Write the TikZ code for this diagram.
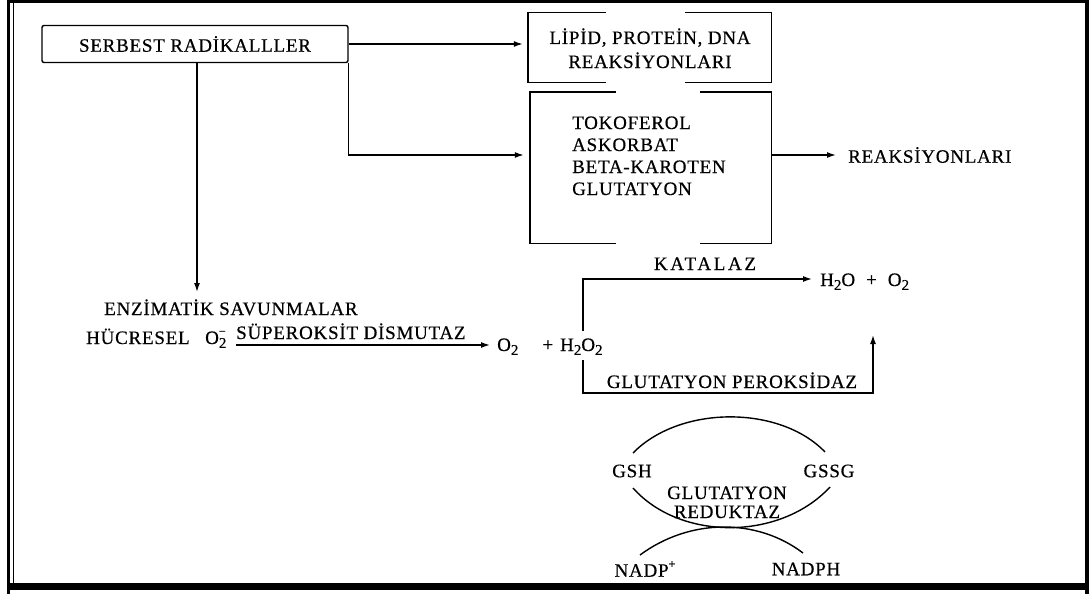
\documentclass[tikz,border=0pt]{standalone}
\usepackage{fontspec}
\setmainfont{Liberation Serif}[LetterSpace=4,FakeBold=0.5]
\usetikzlibrary{arrows.meta}
\newcommand{\mysub}[1]{\raisebox{-0.45ex}{\fontsize{15}{15}\selectfont #1}}
\newcommand{\mysup}[1]{\raisebox{1.0ex}{\fontsize{12}{12}\selectfont #1}}
\begin{document}
\begin{tikzpicture}[x=1pt,y=-1pt,
  txt/.style={inner sep=0pt,font=\fontsize{19}{23}\selectfont,anchor=base west},
  ln/.style={line width=1.4pt},
  arr/.style={ln,-{Latex[length=9pt,width=6pt]}},
  gapbox/.style={inner sep=0pt}]
\useasboundingbox (0,0) rectangle (1089,594);
% frame
\draw[line width=3.2pt] (8.5,0) -- (8.5,594);
\draw[line width=1pt] (13,0) -- (13,590);
\draw[line width=3pt] (7,1.5) -- (1089,1.5);
\draw[line width=3.5pt] (1087.2,0) -- (1087.2,594);
\draw[line width=7pt] (7,586.5) -- (1089,586.5);

% SERBEST RADIKALLER
\node[draw,ln,rounded corners=2pt,minimum width=306pt,minimum height=37pt,
      inner sep=0pt,font=\fontsize{19}{23}\selectfont] (sr) at (195,44) {SERBEST RADİKALLLER};

% LIPID box
\node[gapbox,minimum width=243pt,minimum height=69pt] (lip) at (649.5,47.5) {};
\draw[ln] ([xshift=78pt]lip.north west) -- (lip.north west) -- (lip.south west) -- ([xshift=78pt]lip.south west);
\draw[ln] ([xshift=-86pt]lip.north east) -- (lip.north east) -- (lip.south east) -- ([xshift=-86pt]lip.south east);
\node[txt,anchor=base] (lip1) at (650,44) {LİPİD, PROTEİN, DNA};
\node[txt,anchor=base] (lip2) at (650,68) {REAKSİYONLARI};

% TOKOFEROL box
\node[gapbox,minimum width=241pt,minimum height=151pt] (tk) at (650.5,167.5) {};
\draw[ln] ([xshift=86pt]tk.north west) -- (tk.north west) -- (tk.south west) -- ([xshift=86pt]tk.south west);
\draw[ln] ([xshift=-71pt]tk.north east) -- (tk.north east) -- (tk.south east) -- ([xshift=-71pt]tk.south east);
\node[txt] (t1) at (572,129) {TOKOFEROL};
\node[txt] (t2) at (572,151) {ASKORBAT};
\node[txt] (t3) at (572,173) {BETA-KAROTEN};
\node[txt] (t4) at (572,195) {GLUTATYON};
\coordinate (tkl) at (tk.west |- 0,155);
\coordinate (tkr) at (tk.east |- 0,155);
\node[txt,anchor=west] (rk) at (848,155) {REAKSİYONLARI};

% arrows from SERBEST
\draw[arr,shorten >=5pt] (sr.east) -- (sr.east -| lip.west);
\draw[arr,shorten >=6pt] (sr.south east) |- (tkl);
\draw[arr,shorten >=12pt] (tkr) -- (rk.west);
\coordinate (vtop) at ([xshift=2pt]sr.south);
\coordinate (vtip) at (vtop |- 0,292);
\draw[arr] (vtop) -- (vtip);

% enzymatic
\node[txt] (enz) at (104,315) {ENZİMATİK SAVUNMALAR};
\node[txt] (huc) at (86,344) {HÜCRESEL};
\node[txt] (o2m) at (205,344) {O\rlap{\mysup{−}}\mysub{2}};
\node[txt] (sod) at (236,339) {SÜPEROKSİT DİSMUTAZ};
\node[txt] (o2h) at (497,351) {O\mysub{2}\hspace{24pt}+\hspace{7pt}H\mysub{2}O\mysub{2}};
\coordinate (sodl) at (sod.base west |- 0,345);
\draw[arr,shorten >=7pt] (sodl) -- (sodl -| o2h.west);

% catalase / peroxidase
\node[txt] (h2o) at (820,286) {H\mysub{2}O\hspace{11pt}+\hspace{11pt}O\mysub{2}};
\node[txt,anchor=base] (kat) at (705,270) {\addfontfeature{LetterSpace=14}KATALAZ};
\node[txt,anchor=base] (gpx) at (732,388) {GLUTATYON PEROKSİDAZ};
\coordinate (b1) at (583,331);
\coordinate (b2) at (583,360);
\coordinate (b3) at (873,393);
\coordinate (b4) at (873,335);
\draw[arr,shorten >=8pt] (b1) |- (h2o.west |- 0,279);
\draw[arr] (b2) |- (b3) -- (b4);

% glutathione cycle
\node[txt,anchor=center] (gsh) at (632,471) {GSH};
\node[txt,anchor=center] (gssg) at (829,471) {GSSG};
\node[txt,anchor=base] (gr1) at (727,499) {GLUTATYON};
\node[txt,anchor=base] (gr2) at (727,518) {REDUKTAZ};
\node[txt,anchor=center] (nadp) at (645,569) {NADP\mysup{+}};
\node[txt,anchor=center] (nadph) at (806,569) {NADPH};
\draw[ln] (633,453) .. controls (680,405) and (780,405) .. (825,452);
\draw[ln] (633,488) .. controls (680,541) and (780,541) .. (830,487);
\draw[ln] (640,555) .. controls (690,518) and (757,518) .. (803,553);
\end{tikzpicture}
\end{document}
